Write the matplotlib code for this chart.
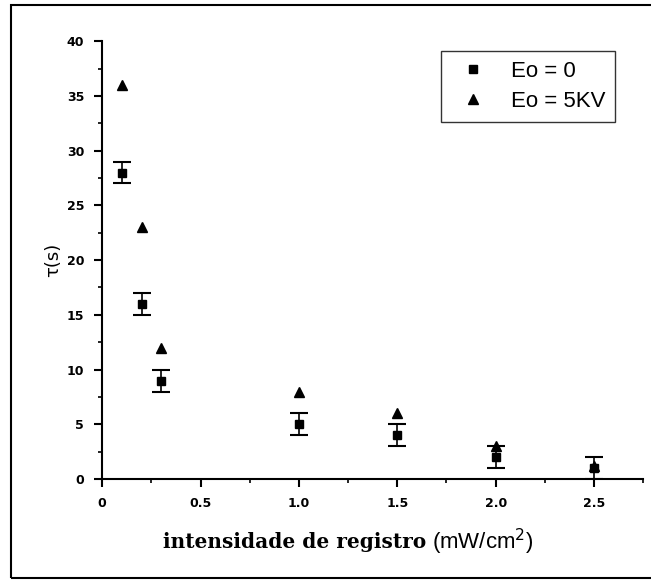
import matplotlib.pyplot as plt
from matplotlib.lines import Line2D
from matplotlib.patches import Rectangle
from matplotlib.ticker import MultipleLocator

# intensidade (mW/cm^2) e tempo de resposta tau (s)
intensidade = [0.1, 0.2, 0.3, 1.0, 1.5, 2.0, 2.5]
tau_e0 = [28, 16, 9, 5, 4, 2, 1]
erro_e0 = [1, 1, 1, 1, 1, 1, 1]
tau_5kv = [36, 23, 12, 8, 6, 3, 1.2]

fig = plt.figure(figsize=(6.51, 5.80), dpi=100)
ax = fig.add_axes([0.157, 0.174, 0.831, 0.755])

ax.errorbar(intensidade, tau_e0, yerr=erro_e0, fmt="s", color="black",
            markersize=6, capsize=6.5, capthick=1.5, elinewidth=1.2)
ax.plot(intensidade, tau_5kv, "^", color="black", markersize=7)

ax.set_xlim(0, 2.75)
ax.set_ylim(0, 40)
ax.xaxis.set_minor_locator(MultipleLocator(0.25))
ax.yaxis.set_major_locator(MultipleLocator(5))
ax.yaxis.set_minor_locator(MultipleLocator(2.5))
ax.set_xticks([0, 0.5, 1.0, 1.5, 2.0, 2.5])
ax.set_xticklabels(["0", "0.5", "1.0", "1.5", "2.0", "2.5"])

for lado in ["top", "right"]:
    ax.spines[lado].set_visible(False)
for lado in ["left", "bottom"]:
    ax.spines[lado].set_linewidth(1.5)

ax.tick_params(which="major", direction="out", length=6, width=1.5,
               labelsize=9, pad=7)
ax.tick_params(which="minor", direction="out", length=3, width=1.2)
for rotulo in ax.get_xticklabels() + ax.get_yticklabels():
    rotulo.set_fontweight("bold")

ax.set_ylabel("τ(s)", fontsize=13, labelpad=3.5)

# rótulo do eixo x: parte em serifa negrito, unidade em fonte comum
fig.text(0.655, 0.065, "intensidade de registro", ha="right", va="center",
         family="DejaVu Serif", fontweight="bold", fontsize=14.5)
fig.text(0.664, 0.065, "(mW/cm$^2$)", ha="left", va="center",
         family="Liberation Sans", fontsize=16)

itens = [
    Line2D([], [], marker="s", linestyle="none", color="black", markersize=6),
    Line2D([], [], marker="^", linestyle="none", color="black", markersize=7),
]
leg = ax.legend(itens, ["Eo = 0", "Eo = 5KV"], loc="upper right",
                bbox_to_anchor=(0.948, 0.978), frameon=True, fancybox=False,
                handlelength=2.0, handletextpad=0.7, borderpad=0.45,
                labelspacing=0.4, borderaxespad=0,
                prop={"family": "Liberation Sans", "size": 16})
leg.get_frame().set_edgecolor("black")
leg.get_frame().set_linewidth(1.0)

# moldura externa da figura
fig.patches.append(Rectangle((0.017, 0.004), 1.0, 0.987, transform=fig.transFigure,
                             fill=False, edgecolor="black", linewidth=1.5))

fig.savefig("out.png", dpi=100)
